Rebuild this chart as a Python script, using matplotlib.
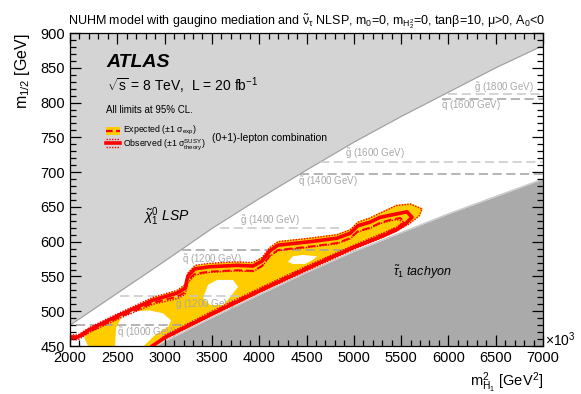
import numpy as np
import matplotlib
matplotlib.use('Agg')
import matplotlib.pyplot as plt
from matplotlib.patches import Rectangle, Polygon

plt.rcParams['font.family'] = ['Liberation Sans', 'DejaVu Sans']
plt.rcParams['mathtext.fontset'] = 'custom'
plt.rcParams['mathtext.rm'] = 'Liberation Sans'
plt.rcParams['mathtext.it'] = 'Liberation Sans:italic'
plt.rcParams['mathtext.bf'] = 'Liberation Sans:bold'
plt.rcParams['mathtext.default'] = 'regular'

# excluded theory regions
lsp_x = [2000, 2500, 3000, 3500, 4000, 4500, 5000, 5500, 6000, 6500, 7000]
lsp_y = [480, 526, 572, 619, 662, 703, 743, 780, 815, 850, 882]
tach_x = [2900, 3500, 4000, 4500, 5000, 5500, 6000, 6500, 7000]
tach_y = [450, 491, 524, 556, 586, 613, 640, 665, 690]

# observed limit (solid)
obs_x = [2000, 2085, 2211, 2529, 2877, 3131, 3216, 3247, 3321, 3480, 3765, 3934, 4029, 4114, 4199, 4537,
         4822, 4960, 5044, 5171, 5277, 5562, 5615, 5541, 5435, 5300, 5000, 4500, 4000, 3500, 3000, 2870]
obs_y = [463, 463, 474, 495, 516, 526, 533, 551, 561, 564, 566, 565, 572, 587, 595, 600,
         605, 612, 623, 628, 635, 643, 635, 625, 616, 608, 592, 561, 529, 496, 462, 450]
# observed +1 sigma theory (dotted)
ou_x = [2000, 2085, 2211, 2529, 2877, 3131, 3216, 3247, 3321, 3480, 3765, 3934, 4029, 4114, 4199, 4537, 4822,
        4960, 5044, 5171, 5277, 5450, 5600, 5720, 5690, 5590, 5450, 5300, 5000, 4500, 4000, 3500, 3000, 2850]
ou_y = [466, 466, 477, 498, 520, 530, 538, 555, 566, 569, 571, 570, 577, 592, 600, 605, 610,
        617, 628, 634, 641, 652, 654, 647, 637, 626, 615, 606, 589, 558, 527, 494, 460, 450]
# observed -1 sigma theory (dotted)
od_x = [2000, 2085, 2211, 2529, 2877, 3131, 3216, 3247, 3321, 3480, 3765, 3934, 4029, 4114, 4199, 4537,
        4822, 4960, 5044, 5171, 5277, 5450, 5520, 5470, 5300, 5000, 4500, 4000, 3500, 3000, 2890]
od_y = [459, 459, 470, 490, 510, 518, 524, 541, 552, 556, 558, 557, 564, 579, 587, 592,
        597, 604, 614, 619, 626, 632, 629, 622, 612, 595, 565, 533, 500, 465, 450]
# expected limit (dashed)
ex_x = [2000, 2085, 2211, 2529, 2877, 3131, 3216, 3247, 3321, 3480, 3765, 3934, 4029, 4114, 4199, 4537,
        4822, 4960, 5044, 5171, 5277, 5400, 5490, 5540, 5450, 5300, 5000, 4500, 4000, 3500, 3000, 2880]
ex_y = [461, 461, 471, 492, 512, 521, 527, 545, 554, 557, 559, 558, 565, 580, 588, 593,
        598, 605, 615, 620, 627, 632, 634, 628, 620, 610, 593, 563, 531, 498, 463, 450]
# expected +-1 sigma band (yellow) and its holes
band_x = [2150, 2211, 2529, 2877, 3131, 3216, 3247, 3321, 3480, 3765, 3934, 4029, 4114, 4199, 4537, 4822,
          4960, 5044, 5171, 5277, 5450, 5600, 5731, 5700, 5594, 5300, 5000, 4500, 4000, 3500, 3000, 2910, 2190]
band_y = [462, 475, 497, 520, 530, 539, 556, 566, 569, 571, 570, 578, 592, 601, 606, 611,
          618, 629, 635, 642, 653, 655, 648, 637, 626, 605, 589, 558, 526, 493, 459, 450, 450]
holeA_x = [2476, 2487, 2550, 2666, 2846, 2983, 3068, 3040, 2900, 2780]
holeA_y = [450, 476, 493, 500, 501, 497, 487, 478, 466, 450]
holeB_x = [3406, 3459, 3554, 3723, 3776, 3691, 3617, 3480]
holeB_y = [519, 538, 545, 545, 535, 520, 509, 509]
holeC_x = [4304, 4357, 4463, 4611, 4569, 4484, 4357]
holeC_y = [571, 579, 581, 579, 574, 568, 568]

# squark / gluino mass lines: label, y, x start, x end, label x, label y, colour
mass_lbl = [r'$\tilde{q}$ (1000 GeV)', r'$\tilde{g}$ (1200 GeV)', r'$\tilde{q}$ (1200 GeV)', r'$\tilde{g}$ (1400 GeV)',
            r'$\tilde{q}$ (1400 GeV)', r'$\tilde{g}$ (1600 GeV)', r'$\tilde{q}$ (1600 GeV)', r'$\tilde{g}$ (1800 GeV)']
mass_y = [480, 522, 588, 619, 697, 715, 805, 812]
mass_x0 = [2060, 2529, 3184, 3590, 4431, 4643, 5932, 5995]
mass_x1 = [3300, 3977, 4930, 4854, 7000, 7000, 7000, 7000]
lbl_x = [2497, 3110, 3184, 3797, 4410, 4907, 5922, 6270]
lbl_y = [470, 510, 575, 630, 686, 727, 796, 822]
mass_col = ['#a0a0a0', '#c8c8c8', '#a0a0a0', '#c8c8c8', '#a0a0a0', '#c8c8c8', '#a0a0a0', '#c8c8c8']

fig = plt.figure(figsize=(5.81, 3.94), dpi=100)
ax = fig.add_axes([0.1205, 0.1218, 0.8141, 0.7944])

ax.fill_between(lsp_x, lsp_y, 900, color='#d4d4d4', lw=0, zorder=1)
ax.plot(lsp_x, lsp_y, color='#a0a0a0', lw=0.8, zorder=1.5)
ax.fill_between(tach_x, tach_y, 450, color='#aaaaaa', lw=0, zorder=1)
ax.plot(tach_x, tach_y, color='#c8c8c8', lw=1.0, zorder=1.5)

ax.add_patch(Polygon(np.column_stack([band_x, band_y]), closed=True, fc='#ffcc00', ec='none', zorder=2))
for hx, hy in [(holeA_x, holeA_y), (holeB_x, holeB_y), (holeC_x, holeC_y)]:
    ax.add_patch(Polygon(np.column_stack([hx, hy]), closed=True, fc='white', ec='none', zorder=2.1))

for i in range(len(mass_y)):
    ax.plot([mass_x0[i], mass_x1[i]], [mass_y[i], mass_y[i]], color=mass_col[i], lw=1.1,
            dashes=(6, 3), zorder=2.5)
    ax.text(lbl_x[i], lbl_y[i], mass_lbl[i], color='#a8a8a8', fontsize=7, va='center', ha='left', zorder=2.6)

ax.plot(ex_x, ex_y, color='red', lw=1.4, dashes=(4, 2), zorder=3)
ax.plot(ou_x, ou_y, color='red', lw=1.0, ls=(0, (1, 1)), zorder=3)
ax.plot(od_x, od_y, color='red', lw=1.0, ls=(0, (1, 1)), zorder=3)
ax.plot(obs_x, obs_y, color='red', lw=2.6, zorder=3.2)

ax.set_xlim(2000, 7000)
ax.set_ylim(450, 900)
ax.set_xticks(np.arange(2000, 7001, 500))
ax.set_yticks(np.arange(450, 901, 50))
ax.set_xticks(np.arange(2000, 7001, 100), minor=True)
ax.set_yticks(np.arange(450, 901, 10), minor=True)
ax.tick_params(which='both', direction='in', top=True, right=True, labelsize=10.5, width=0.9)
ax.tick_params(which='major', length=8)
ax.tick_params(which='minor', length=4)
for s in ax.spines.values():
    s.set_linewidth(0.9)
    s.set_zorder(5)

ax.set_ylabel(r'm$_{1/2}$ [GeV]', fontsize=11.5, loc='top', labelpad=6)
ax.set_xlabel(r'm$^{2}_{H_{1}}$ [GeV$^{2}$]', fontsize=10.5, loc='right')
ax.text(1.004, 0.02, r'$\times10^{3}$', transform=ax.transAxes, fontsize=10, ha='left', va='center')

ax.set_title(r'NUHM model with gaugino mediation and $\tilde{\nu}_{\tau}$ NLSP, m$_0$=0, m$_{H_2^2}$=0, '
             r'tan$\beta$=10, $\mu$>0, A$_0$<0', fontsize=9, pad=6)

ax.text(0.078, 0.907, 'ATLAS', transform=ax.transAxes, fontsize=14, fontweight='bold', style='italic',
        va='center', zorder=6)
ax.text(0.078, 0.831, r'$\sqrt{s}$ = 8 TeV,  L = 20 fb$^{-1}$', transform=ax.transAxes, fontsize=10,
        va='center', zorder=6)
ax.text(0.076, 0.754, 'All limits at 95% CL.', transform=ax.transAxes, fontsize=7, va='center', zorder=6)

ax.add_patch(Rectangle((0.076, 0.674), 0.030, 0.026, transform=ax.transAxes, fc='#ffcc00', ec='none', zorder=6))
ax.plot([0.076, 0.106], [0.687, 0.687], transform=ax.transAxes, color='red', lw=1.6, dashes=(3, 1.5), zorder=7)
ax.plot([0.076, 0.106], [0.661, 0.661], transform=ax.transAxes, color='red', lw=1.0, ls=(0, (1, 1)), zorder=7)
ax.plot([0.076, 0.106], [0.649, 0.649], transform=ax.transAxes, color='red', lw=2.6, zorder=7)
ax.plot([0.076, 0.106], [0.636, 0.636], transform=ax.transAxes, color='red', lw=1.0, ls=(0, (1, 1)), zorder=7)
ax.text(0.112, 0.690, r'Expected ($\pm$1 $\sigma_{exp}$)', transform=ax.transAxes, fontsize=6.3,
        va='center', zorder=7)
ax.text(0.112, 0.645, r'Observed ($\pm$1 $\sigma^{SUSY}_{theory}$)', transform=ax.transAxes, fontsize=6.3,
        va='center', zorder=7)
ax.text(0.300, 0.664, '(0+1)-lepton combination', transform=ax.transAxes, fontsize=7.5, va='center', zorder=7)

ax.text(0.154, 0.412, r'$\mathit{\tilde{\chi}^{0}_{1}}$ LSP', transform=ax.transAxes, fontsize=10,
        style='italic', va='center', zorder=6)
ax.text(0.683, 0.236, r'$\mathit{\tilde{\tau}_{1}}$ tachyon', transform=ax.transAxes, fontsize=9,
        style='italic', va='center', zorder=6)

fig.savefig('out.png', dpi=100)
